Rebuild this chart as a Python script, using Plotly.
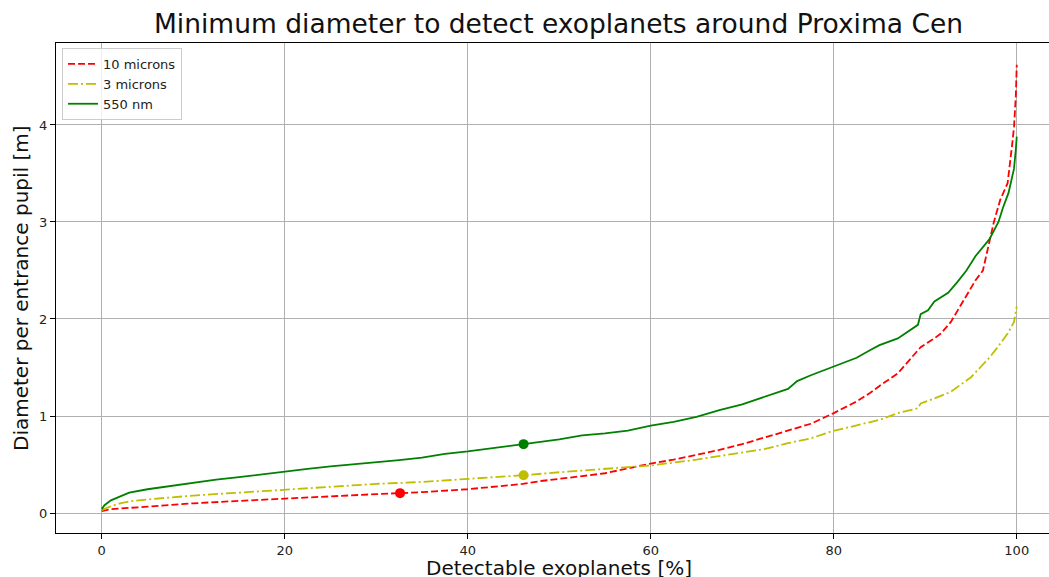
import plotly.graph_objects as go

# ---- data ----
green_x = [0, 0.3, 1, 2, 3, 5, 7.5, 10, 12.5, 15, 17.5, 20, 22.5, 25, 27.5, 30, 32.5, 35, 37.5, 40,
           43, 46.1, 50, 52.5, 55, 57.5, 60, 62.5, 65, 67.5, 70, 72.5, 75, 76, 77.5, 80, 82.5, 84,
           85, 87, 89.2, 89.5, 90.3, 91, 92.5, 93.5, 94.5, 95.5, 96.5, 97, 98, 98.5, 99.1, 99.5,
           99.7, 99.9, 100]
green_y = [0.04, 0.08, 0.13, 0.17, 0.21, 0.245, 0.28, 0.31, 0.345, 0.37, 0.40, 0.43, 0.455, 0.48,
           0.50, 0.52, 0.545, 0.57, 0.61, 0.635, 0.67, 0.71, 0.76, 0.80, 0.82, 0.85, 0.90, 0.94,
           0.99, 1.06, 1.12, 1.20, 1.28, 1.36, 1.42, 1.51, 1.60, 1.68, 1.73, 1.80, 1.94, 2.05,
           2.09, 2.18, 2.27, 2.38, 2.50, 2.65, 2.77, 2.82, 3.00, 3.15, 3.30, 3.45, 3.55, 3.75, 3.88]

red_x = [0, 1, 5, 10, 15, 20, 25, 30, 32.6, 35, 40, 43, 46, 48, 50, 52.5, 55, 57.5, 60, 62.5, 65,
         67.5, 70, 72.5, 75, 77.5, 80, 82.5, 84, 85, 87, 88, 89.5, 91, 91.7, 92.8, 93.5, 94.5,
         95.5, 96.3, 97, 97.5, 98.2, 99, 99.5, 99.7, 99.9, 100]
red_y = [0.02, 0.04, 0.065, 0.10, 0.125, 0.15, 0.17, 0.195, 0.205, 0.215, 0.245, 0.27, 0.30, 0.33,
         0.35, 0.38, 0.41, 0.46, 0.51, 0.55, 0.60, 0.65, 0.71, 0.78, 0.85, 0.92, 1.03, 1.15,
         1.24, 1.31, 1.44, 1.55, 1.71, 1.80, 1.85, 1.97, 2.08, 2.25, 2.40, 2.50, 2.80, 3.00,
         3.23, 3.40, 3.80, 3.98, 4.30, 4.62]

yellow_x = [0, 1, 2, 3, 5, 7.5, 10, 15, 20, 25, 30, 35, 40, 46.1, 50, 55, 60, 65, 70, 72.5, 75,
            77.5, 79.7, 82.5, 85, 87, 89.2, 89.5, 91, 92.8, 94, 95, 96, 97, 98, 99, 99.7, 100]
yellow_y = [0.03, 0.07, 0.10, 0.12, 0.14, 0.16, 0.18, 0.21, 0.24, 0.27, 0.30, 0.32, 0.35, 0.39,
            0.42, 0.455, 0.49, 0.55, 0.62, 0.66, 0.72, 0.77, 0.84, 0.90, 0.96, 1.03, 1.08, 1.13,
            1.18, 1.25, 1.33, 1.40, 1.50, 1.60, 1.72, 1.85, 1.97, 2.13]

marker_red = (32.6, 0.205)
marker_yellow = (46.1, 0.39)
marker_green = (46.1, 0.71)

x_ticks = [0, 20, 40, 60, 80, 100]
y_ticks = [0, 1, 2, 3, 4]

RED = "#ff0000"
YEL = "#bfbf00"
GRN = "#008000"
FONT = "DejaVu Sans"

fig = go.Figure()
fig.add_trace(go.Scatter(x=red_x, y=red_y, mode="lines", name="10 microns",
                         line=dict(color=RED, width=1.8, dash="7px,3px")))
fig.add_trace(go.Scatter(x=yellow_x, y=yellow_y, mode="lines", name="3 microns",
                         line=dict(color=YEL, width=1.8, dash="10px,3px,2px,3px")))
fig.add_trace(go.Scatter(x=green_x, y=green_y, mode="lines", name="550 nm",
                         line=dict(color=GRN, width=1.8)))
for (mx, my), c in [(marker_red, RED), (marker_yellow, YEL), (marker_green, GRN)]:
    fig.add_trace(go.Scatter(x=[mx], y=[my], mode="markers", showlegend=False,
                             marker=dict(color=c, size=10)))

W, H = 1049, 577
ml, mr, mt, mb = 56, 0, 43, 44
pw, ph = W - ml - mr, H - mt - mb

axis_common = dict(showline=True, linecolor="black", linewidth=1, mirror=True,
                   showgrid=True, gridcolor="#b0b0b0", gridwidth=1, zeroline=False,
                   ticks="outside", ticklen=5, tickcolor="black",
                   tickfont=dict(family=FONT, size=13, color="#222"))

fig.update_layout(
    width=W, height=H, autosize=False,
    margin=dict(l=ml, r=mr, t=mt, b=mb, pad=0),
    paper_bgcolor="white", plot_bgcolor="white",
    font=dict(family=FONT, color="#222"),
    title=dict(text="Minimum diameter to detect exoplanets around Proxima Cen",
               x=558.5 / W, xanchor="center", xref="container",
               y=1 - 24 / H, yanchor="middle", yref="container",
               font=dict(family=FONT, size=26.5, color="#111")),
    xaxis=dict(range=[-5, -5 + pw / 9.15], tickvals=x_ticks, **axis_common),
    yaxis=dict(range=[-0.206, 4.845], tickvals=y_ticks, **axis_common),
    legend=dict(x=6 / pw, y=1 - 5 / ph, xanchor="left", yanchor="top",
                bgcolor="rgba(255,255,255,0.8)", bordercolor="#cccccc", borderwidth=1,
                font=dict(family=FONT, size=13, color="#222"), itemwidth=30,
                tracegroupgap=0),
    showlegend=True,
)

fig.add_annotation(text="Detectable exoplanets [%]", xref="paper", yref="paper",
                   x=(558.5 - ml) / pw, y=-35 / ph, xanchor="center", yanchor="middle",
                   showarrow=False, font=dict(family=FONT, size=20, color="#111"))
fig.add_annotation(text="Diameter per entrance pupil [m]", xref="paper", yref="paper",
                   x=(21 - ml) / pw, y=0.5, xanchor="center", yanchor="middle",
                   textangle=-90, showarrow=False, font=dict(family=FONT, size=20, color="#111"))

fig.write_html("out.html")
